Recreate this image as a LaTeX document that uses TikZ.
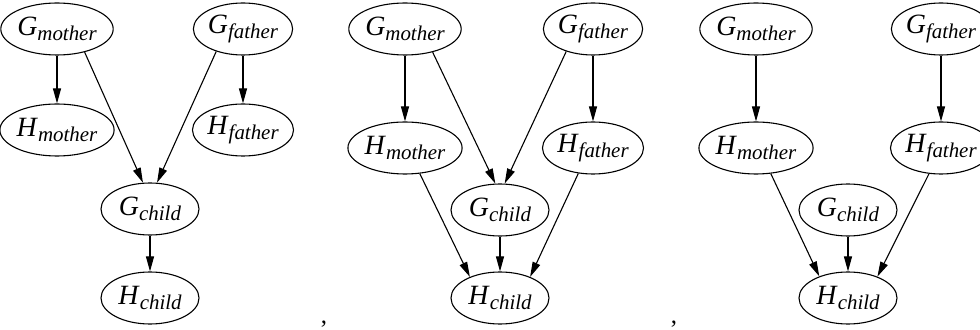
\documentclass[tikz,border=0pt]{standalone}
\usepackage{fontspec}
\setmainfont{Liberation Serif}
\usetikzlibrary{shapes.geometric,arrows.meta}
\newcommand{\gvar}[2]{\textit{#1}\raisebox{-5bp}{\fontsize{21}{21}\selectfont\textit{#2}}}
\tikzset{gnode/.style={draw,ellipse,minimum width=98bp,minimum height=52bp,inner sep=0pt,
  font=\fontsize{28}{32}\selectfont}}
\begin{document}
\begin{tikzpicture}[>={Triangle[length=15bp,width=8bp]},line join=bevel,line width=1.1bp]
\clip (0bp,0bp) rectangle (980bp,330bp);
%%
\node (Gm1) at (57bp,301bp) [gnode] {\gvar{G}{mother}};
  \node (Gf1) at (243bp,301bp) [gnode] {\gvar{G}{father}};
  \node (Hm1) at (57bp,200bp) [gnode] {\gvar{H}{mother}};
  \node (Hf1) at (243bp,200bp) [gnode] {\gvar{H}{father}};
  \node (Gc1) at (150bp,121bp) [gnode] {\gvar{G}{child}};
  \node (Hc1) at (150bp,32bp) [gnode] {\gvar{H}{child}};
  \draw [->] (Gm1) -- (Hm1);
  \draw [->] (Gm1.-40) -- (Gc1.105);
  \draw [->] (Gf1.-140) -- (Gc1.75);
  \draw [->] (Gf1) -- (Hf1);
  \draw [->] (Gc1) -- (Hc1);
  \node (sep1) at (324bp,7bp) [anchor=base,inner sep=0pt,font=\fontsize{25}{30}\selectfont] {,};
%
\node (Gm2) at (405bp,301bp) [gnode] {\gvar{G}{mother}};
  \node (Gf2) at (593bp,301bp) [gnode] {\gvar{G}{father}};
  \node (Hm2) at (405bp,182bp) [gnode] {\gvar{H}{mother}};
  \node (Hf2) at (593bp,182bp) [gnode] {\gvar{H}{father}};
  \node (Gc2) at (500bp,120bp) [gnode] {\gvar{G}{child}};
  \node (Hc2) at (500bp,32bp) [gnode] {\gvar{H}{child}};
  \draw [->] (Gm2) -- (Hm2);
  \draw [->] (Gm2.-40) -- (Gc2.100);
  \draw [->] (Gf2.-140) -- (Gc2.80);
  \draw [->] (Gf2) -- (Hf2);
  \draw [->] (Hm2.-60) -- (Hc2.145);
  \draw [->] (Gc2) -- (Hc2);
  \draw [->] (Hf2.-120) -- (Hc2.35);
  \node (sep2) at (674bp,7bp) [anchor=base,inner sep=0pt,font=\fontsize{25}{30}\selectfont] {,};
%
\node (Gm3) at (756bp,301bp) [gnode] {\gvar{G}{mother}};
  \node (Gf3) at (941bp,301bp) [gnode] {\gvar{G}{father}};
  \node (Hm3) at (756bp,182bp) [gnode] {\gvar{H}{mother}};
  \node (Hf3) at (941bp,182bp) [gnode] {\gvar{H}{father}};
  \node (Gc3) at (848bp,120bp) [gnode] {\gvar{G}{child}};
  \node (Hc3) at (848bp,32bp) [gnode] {\gvar{H}{child}};
  \draw [->] (Gm3) -- (Hm3);
  \draw [->] (Gf3) -- (Hf3);
  \draw [->] (Hm3.-60) -- (Hc3.143);
  \draw [->] (Gc3) -- (Hc3);
  \draw [->] (Hf3.-115) -- (Hc3.36);
%
\end{tikzpicture}
\end{document}
